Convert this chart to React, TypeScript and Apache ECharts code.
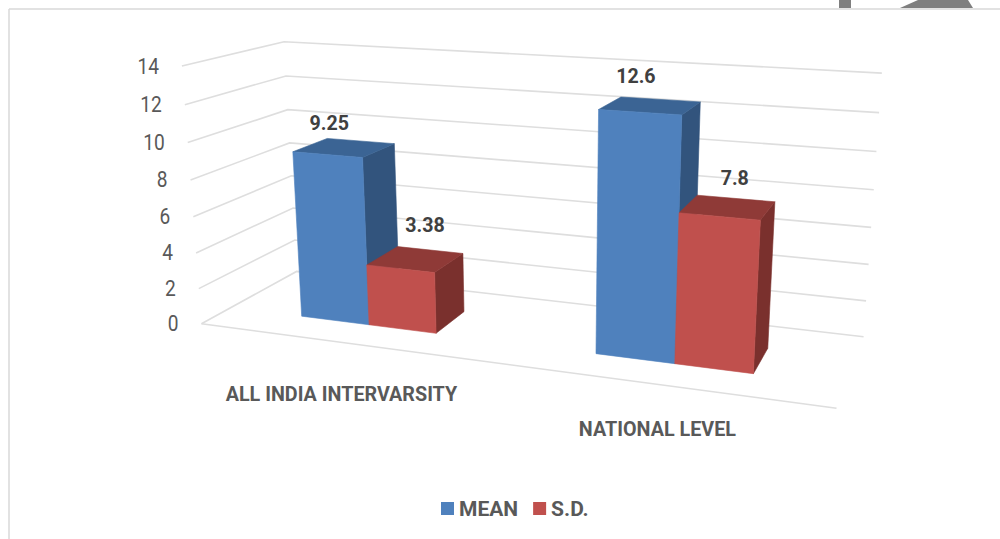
import React, { useEffect, useRef } from "react";
import * as echarts from "echarts";

const categories = ["ALL INDIA INTERVARSITY", "NATIONAL LEVEL"];
const meanValues = [9.25, 12.6];
const sdValues = [3.38, 7.8];
const tickValues = [0, 2, 4, 6, 8, 10, 12, 14];
const AXIS_MAX = 14;

// Plot rectangle of the (hidden) cartesian system; it gets projected onto the 3D box
const GRID = { left: 200, top: 64, width: 637, height: 258 };
const DEPTH_FRONT = 0.29;
const DEPTH_BACK = 0.66;
const MEAN_RATIO = 0.243;
const SD_RATIO = 0.233;

// Camera calibration: box corner (X,Y,Z) -> pixel
const calibration = [
  [0, 0, 0, 200, 323],
  [1, 0, 0, 837, 408],
  [0, 1, 0, 298, 272],
  [1, 1, 0, 863, 337],
  [0, 0, 1, 183, 67],
  [0, 1, 1, 283, 41],
  [1, 1, 1, 882, 73],
];

function solveCamera(): number[] {
  const rows: number[][] = [];
  const rhs: number[] = [];
  calibration.forEach(([X, Y, Z, px, py]) => {
    const x = px / 1000;
    const y = py / 1000;
    rows.push([1, X, Y, Z, 0, 0, 0, 0, -x * X, -x * Y, -x * Z]);
    rhs.push(x);
    rows.push([0, 0, 0, 0, 1, X, Y, Z, -y * X, -y * Y, -y * Z]);
    rhs.push(y);
  });
  const n = 11;
  const m: number[][] = [];
  for (let i = 0; i < n; i++) {
    const r: number[] = [];
    for (let j = 0; j < n; j++) {
      let s = i === j ? 1e-10 : 0;
      rows.forEach((row) => (s += row[i] * row[j]));
      r.push(s);
    }
    let b = 0;
    rows.forEach((row, k) => (b += row[i] * rhs[k]));
    r.push(b);
    m.push(r);
  }
  for (let c = 0; c < n; c++) {
    let p = c;
    for (let r = c + 1; r < n; r++) if (Math.abs(m[r][c]) > Math.abs(m[p][c])) p = r;
    [m[c], m[p]] = [m[p], m[c]];
    for (let r = 0; r < n; r++) {
      if (r === c) continue;
      const f = m[r][c] / m[c][c];
      for (let k = c; k <= n; k++) m[r][k] -= f * m[c][k];
    }
  }
  return m.map((r, i) => r[n] / r[i]);
}
const cam = solveCamera();
function project(X: number, Y: number, Z: number): [number, number] {
  const w = 1 + cam[8] * X + cam[9] * Y + cam[10] * Z;
  return [
    (1000 * (cam[0] + cam[1] * X + cam[2] * Y + cam[3] * Z)) / w,
    (1000 * (cam[4] + cam[5] * X + cam[6] * Y + cam[7] * Z)) / w,
  ];
}
const toU = (px: number) => (px - GRID.left) / GRID.width;
const toZ = (py: number) => (GRID.top + GRID.height - py) / GRID.height;

const FONT = "Roboto, 'Open Sans', sans-serif";

function textEl(text: string, x: number, y: number, size: number, weight: string, fill: string, align: string, scaleX: number) {
  return {
    type: "text",
    x,
    y,
    scaleX,
    scaleY: 1,
    silent: true,
    style: {
      text,
      x: 0,
      y: 0,
      fontFamily: FONT,
      fontSize: size,
      fontWeight: weight,
      fill,
      align,
      verticalAlign: "middle",
      textAlign: align,
      textVerticalAlign: "middle",
    },
  };
}

function face(points: [number, number][], color: string) {
  return {
    type: "polygon",
    shape: { points },
    style: { fill: color, stroke: color, lineWidth: 0.6 },
  };
}

const meanNudge = [[2, -15], [15, -21]];
const sdNudge = [[-5, -25], [-1, -20]];

function barRenderer(side: -1 | 1, ratio: number, colors: { front: string; top: string; side: string }, nudges: number[][]) {
  return (_params: any, api: any) => {
    const cat = api.value(0);
    const val = api.value(1);
    const [cx, py] = api.coord([cat, val]);
    const w = api.size([1, 0])[0] * ratio;
    const x0 = toU(side < 0 ? cx - w : cx) + 0.003;
    const x1 = toU(side < 0 ? cx : cx + w) + 0.003;
    const z = toZ(py);
    const a = DEPTH_FRONT;
    const b = DEPTH_BACK;
    const children: any[] = [
      face([project(x1, a, 0), project(x1, b, 0), project(x1, b, z), project(x1, a, z)], colors.side),
      face([project(x0, a, z), project(x1, a, z), project(x1, b, z), project(x0, b, z)], colors.top),
      face([project(x0, a, 0), project(x1, a, 0), project(x1, a, z), project(x0, a, z)], colors.front),
    ];
    const anchor = side < 0 ? project(x0, b, z) : project((x0 + x1) / 2, b, z);
    const nudge = nudges[cat];
    children.push(textEl(String(val), anchor[0] + nudge[0], anchor[1] + nudge[1], 20, "700", "#404040", "center", 0.98));
    return { type: "group", children };
  };
}

function wallRenderer(_params: any, api: any) {
  const val = api.value(1);
  const [, py] = api.coord([0, val]);
  const z = toZ(py);
  const p0 = project(0, 0, z);
  const children: any[] = [
    {
      type: "polyline",
      shape: { points: [p0, project(0, 1, z), project(1, 1, z)] },
      style: { fill: "none", stroke: "#dedede", lineWidth: 1.6 },
    },
  ];
  if (val === 0) {
    children.push({
      type: "line",
      shape: { x1: p0[0], y1: p0[1], x2: project(1, 0, 0)[0], y2: project(1, 0, 0)[1] },
      style: { stroke: "#dedede", lineWidth: 1.6 },
    });
  }
  children.push(textEl(String(val), p0[0] - 23, p0[1], 22, "400", "#595959", "right", 0.87));
  return { type: "group", children };
}

const categoryNudge = [51, 44];
function categoryRenderer(_params: any, api: any) {
  const cat = api.value(0);
  const [cx] = api.coord([cat, 0]);
  const p = project(toU(cx), 0, 0);
  return textEl(categories[cat], p[0], p[1] + categoryNudge[cat], 21, "700", "#595959", "center", 0.94);
}

export default function App() {
  const ref = useRef<HTMLDivElement>(null);
  useEffect(() => {
    document.body.style.margin = "0";
    const chart = echarts.init(ref.current!, null, { renderer: "svg" });
    chart.setOption({
      animation: false,
      backgroundColor: "#ffffff",
      grid: { ...GRID },
      xAxis: { type: "category", data: categories, show: false },
      yAxis: { type: "value", min: 0, max: AXIS_MAX, interval: 2, show: false },
      legend: {
        left: 436,
        top: 493,
        itemWidth: 13,
        itemHeight: 13,
        itemGap: 15,
        data: [
          { name: "MEAN", icon: "rect" },
          { name: "S.D.", icon: "rect" },
        ],
        textStyle: {
          fontFamily: "'Liberation Sans Narrow', Roboto, sans-serif",
          fontSize: 21,
          fontWeight: 700,
          color: "#595959",
        },
      },
      graphic: [
        { type: "line", shape: { x1: 9, y1: 9, x2: 1000, y2: 9 }, style: { stroke: "#d9d9d9", lineWidth: 1.5 } },
        { type: "line", shape: { x1: 9, y1: 9, x2: 9, y2: 539 }, style: { stroke: "#d9d9d9", lineWidth: 1.5 } },
        { type: "polygon", shape: { points: [[839, 0], [851, 0], [851, 8], [839, 8]] }, style: { fill: "#7f7f7f" } },
        { type: "polygon", shape: { points: [[900, 8], [918, 0], [968, 0], [973, 8]] }, style: { fill: "#7f7f7f" } },
      ],
      series: [
        {
          type: "custom",
          name: "walls",
          data: tickValues.map((v) => [0, v]),
          renderItem: wallRenderer,
          silent: true,
          z: 1,
        },
        {
          type: "custom",
          name: "MEAN",
          data: meanValues.map((v, i) => [i, v]),
          itemStyle: { color: "#4f81bd" },
          renderItem: barRenderer(-1, MEAN_RATIO, { front: "#4f81bd", top: "#3b6494", side: "#32547d" }, meanNudge),
          z: 2,
        },
        {
          type: "custom",
          name: "S.D.",
          data: sdValues.map((v, i) => [i, v]),
          itemStyle: { color: "#c0504d" },
          renderItem: barRenderer(1, SD_RATIO, { front: "#c0504d", top: "#8f3a37", side: "#7a302d" }, sdNudge),
          z: 3,
        },
        {
          type: "custom",
          name: "categories",
          data: categories.map((_, i) => [i, 0]),
          renderItem: categoryRenderer,
          silent: true,
          z: 4,
        },
      ],
    });
    return () => chart.dispose();
  }, []);
  return <div ref={ref} style={{ width: 1000, height: 539 }} />;
}
